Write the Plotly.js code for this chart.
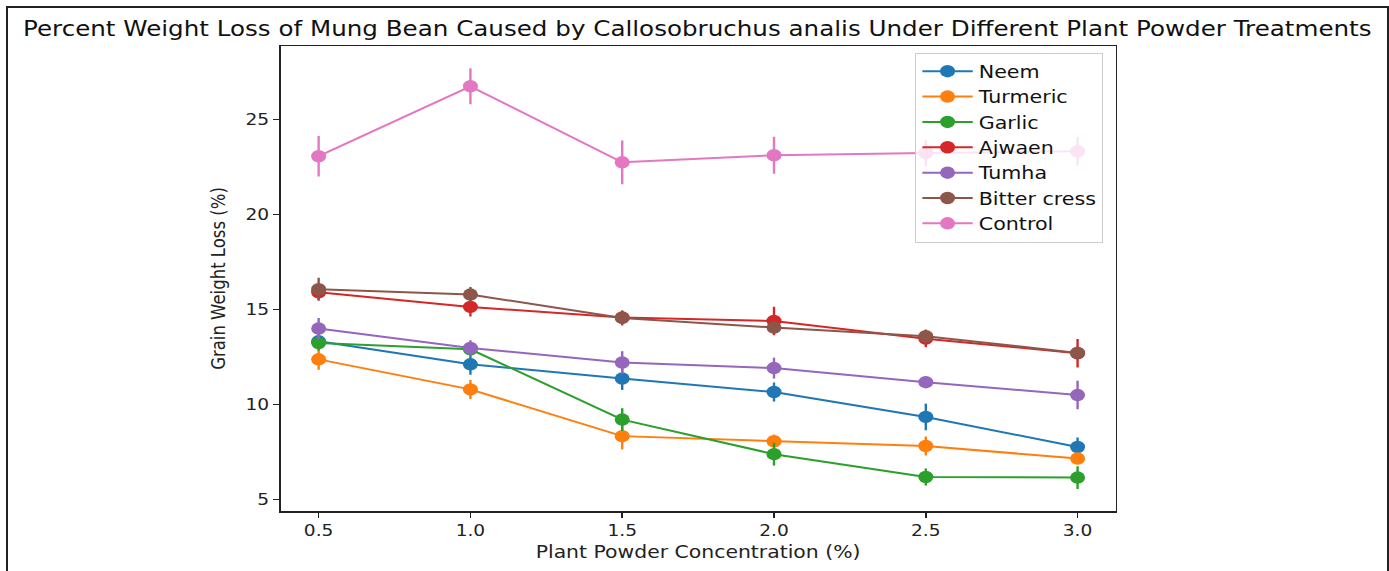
<!DOCTYPE html>
<html>
<head>
<meta charset="utf-8">
<script src="https://cdn.plot.ly/plotly-3.0.1.min.js"></script>
<style>
  html, body { margin: 0; padding: 0; background: #fff; }
  #wrap { position: relative; width: 1389px; height: 571px; overflow: hidden; background: #fff; }
  #chart { width: 1158px; height: 571px; transform: scaleX(1.1995); transform-origin: 0 0; }
  #frame { position: absolute; left: 6px; top: 6px; width: 1379px; height: 600px;
           border: 2px solid #222; pointer-events: none; }
</style>
</head>
<body>
<div id="wrap">
  <div id="chart"></div>
  <div id="frame"></div>
</div>
<script>
// Plant powder concentration (%)
const concentrations = [0.5, 1.0, 1.5, 2.0, 2.5, 3.0];

// Mean grain weight loss (%) per treatment
const neem        = [13.33, 12.12, 11.37, 10.66, 9.35, 7.77];
const turmeric    = [12.38, 10.80, 8.34, 8.07, 7.82, 7.16];
const garlic      = [13.24, 12.91, 9.21, 7.39, 6.19, 6.16];
const ajwaen      = [15.91, 15.14, 14.58, 14.40, 13.47, 12.70];
const tumha       = [14.00, 12.98, 12.21, 11.92, 11.18, 10.50];
const bitterCress = [16.07, 15.79, 14.56, 14.05, 13.60, 12.72];
const control     = [23.07, 26.75, 22.75, 23.12, 23.24, 23.33];

// Error bar half-lengths
const neemErr        = [0.40, 0.55, 0.60, 0.50, 0.70, 0.50];
const turmericErr    = [0.55, 0.50, 0.70, 0.35, 0.50, 0.30];
const garlicErr      = [0.40, 0.30, 0.60, 0.60, 0.45, 0.60];
const ajwaenErr      = [0.40, 0.50, 0.35, 0.75, 0.45, 0.75];
const tumhaErr       = [0.55, 0.40, 0.60, 0.55, 0.30, 0.75];
const bitterCressErr = [0.60, 0.40, 0.40, 0.30, 0.35, 0.35];
const controlErr     = [1.07, 0.95, 1.15, 0.97, 0.70, 0.75];

const seriesNames = ["Neem", "Turmeric", "Garlic", "Ajwaen", "Tumha", "Bitter cress", "Control"];
const seriesValues = [neem, turmeric, garlic, ajwaen, tumha, bitterCress, control];
const seriesErrors = [neemErr, turmericErr, garlicErr, ajwaenErr, tumhaErr, bitterCressErr, controlErr];
const seriesColors = ["#1f77b4", "#ff7f0e", "#2ca02c", "#d62728", "#9467bd", "#8c564b", "#e377c2"];

const xTickVals = [0.5, 1.0, 1.5, 2.0, 2.5, 3.0];
const xTickText = ["0.5", "1.0", "1.5", "2.0", "2.5", "3.0"];
const yTickVals = [5, 10, 15, 20, 25];

const FONT = "DejaVu Sans, Arial, sans-serif";

const traces = seriesNames.map((name, i) => ({
  type: "scatter",
  mode: "lines+markers",
  name: name,
  x: concentrations,
  y: seriesValues[i],
  line: { color: seriesColors[i], width: 2 },
  marker: { color: seriesColors[i], size: 12.5 },
  error_y: { type: "data", array: seriesErrors[i], visible: true,
             color: seriesColors[i], thickness: 2, width: 0 }
}));

const layout = {
  width: 1158,
  height: 571,
  paper_bgcolor: "#ffffff",
  plot_bgcolor: "#ffffff",
  margin: { l: 234, r: 228, t: 46, b: 60, pad: 0 },
  title: {
    text: "Percent Weight Loss of Mung Bean Caused by Callosobruchus analis Under Different Plant Powder Treatments",
    font: { family: FONT, size: 20.5, color: "#111" },
    x: 0.502, xanchor: "center", y: 0.95, yanchor: "middle", yref: "container"
  },
  showlegend: true,
  legend: {
    x: 0.760, xanchor: "left", y: 0.986, yanchor: "top",
    bgcolor: "rgba(255,255,255,0.8)",
    bordercolor: "#cccccc", borderwidth: 1,
    font: { family: FONT, size: 17.2, color: "#111" },
    tracegroupgap: 0,
    itemwidth: 42
  },
  xaxis: {
    range: [0.375, 3.125],
    tickvals: xTickVals,
    ticktext: xTickText,
    ticks: "outside", ticklen: 5, tickwidth: 1.2, tickcolor: "#222",
    showline: true, linecolor: "#222", linewidth: 1.5, mirror: true,
    showgrid: false, zeroline: false,
    tickfont: { family: FONT, size: 15.5, color: "#222" },
    title: { text: "Plant Powder Concentration (%)", standoff: 7,
             font: { family: FONT, size: 17, color: "#222" } }
  },
  yaxis: {
    range: [4.4, 28.87],
    tickvals: yTickVals,
    ticks: "outside", ticklen: 5, tickwidth: 1.2, tickcolor: "#222",
    showline: true, linecolor: "#222", linewidth: 1.5, mirror: true,
    showgrid: false, zeroline: false,
    tickfont: { family: FONT, size: 15.5, color: "#222" },
    title: { text: "Grain Weight Loss (%)", standoff: 12,
             font: { family: FONT, size: 16.5, color: "#222" } }
  }
};

Plotly.newPlot("chart", traces, layout, { displayModeBar: false, staticPlot: true });
</script>
</body>
</html>
